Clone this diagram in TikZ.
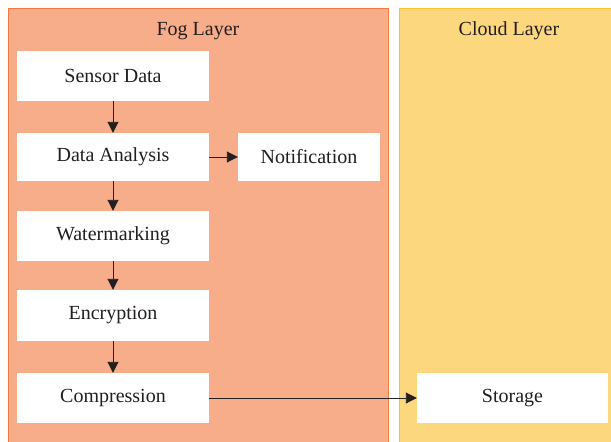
\documentclass[tikz,border=0pt]{standalone}
\usepackage{fontspec}
\setmainfont{Liberation Serif}
\usetikzlibrary{arrows.meta}

\definecolor{fogfill}{HTML}{F7AC8A}
\definecolor{fogline}{HTML}{EF7B3E}
\definecolor{cloudfill}{HTML}{FCD77E}
\definecolor{cloudline}{HTML}{F8C232}
\definecolor{ink}{HTML}{231F20}

\tikzset{
    stage/.style={fill=white, minimum width=192pt, minimum height=50pt, font=\fontsize{20}{24}\selectfont, text=ink},
    flow/.style={-{Triangle[length=11pt,width=11pt]}, ink, line width=0.9pt}
}

\begin{document}
\begin{tikzpicture}[x=1pt,y=-1pt]
    \useasboundingbox (0,0) rectangle (611,442);
    % the two layers
    \draw[fogline, fill=fogfill, line width=1pt] (8,8) rectangle (388,445);
    \draw[cloudline, fill=cloudfill, line width=1pt] (399,8) rectangle (615,445);
    \node[font=\fontsize{20}{24}\selectfont, text=ink] (fogtitle) at (198,31) {Fog Layer};
    \node[font=\fontsize{20}{24}\selectfont, text=ink] (cloudtitle) at (509,31) {Cloud Layer};
    % fog stages
    \node[stage] (sensor) at (113,75.5) {Sensor Data};
    \node[stage, minimum height=48pt] (analysis) at (113,157) {Data Analysis};
    \node[stage, minimum width=142pt, minimum height=48pt] (notify) at (309,157) {Notification};
    \node[stage] (watermark) at (113,236) {Watermarking};
    \node[stage, minimum height=51pt] (encrypt) at (113,315.5) {Encryption};
    \node[stage] (compress) at (113,398) {Compression};
    % cloud stage
    \node[stage, minimum width=191pt] (storage) at (512.5,398) {Storage};
    % arrows
    \draw[flow] (sensor) -- (analysis);
    \draw[flow] (analysis) -- (notify);
    \draw[flow] (analysis) -- (watermark);
    \draw[flow] (watermark) -- (encrypt);
    \draw[flow] (encrypt) -- (compress);
    \draw[flow] (compress) -- (storage);
\end{tikzpicture}
\end{document}
